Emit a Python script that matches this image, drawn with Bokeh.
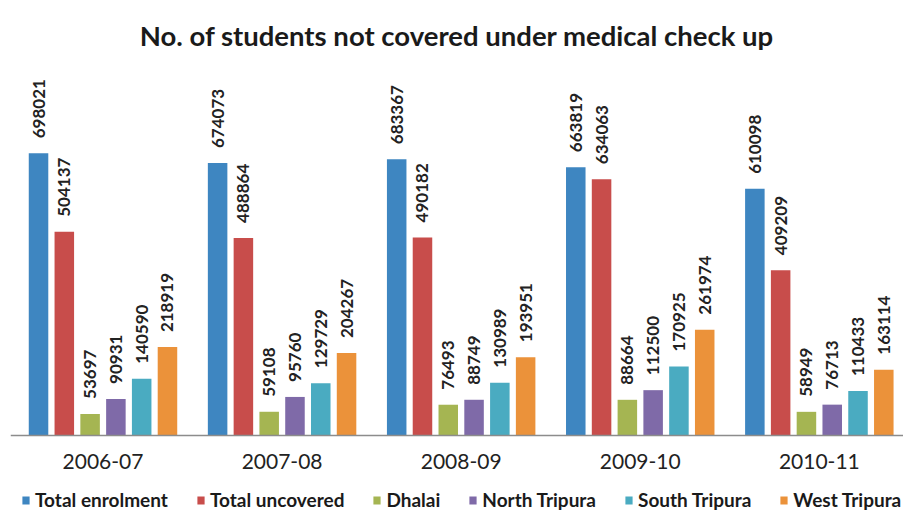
import math
from bokeh.plotting import figure
from bokeh.models import ColumnDataSource, Legend, LegendItem, FixedTicker, Range1d
from bokeh.core.properties import value
from bokeh.embed import file_html
from bokeh.resources import INLINE

years = ["2006-07", "2007-08", "2008-09", "2009-10", "2010-11"]
series_names = ["Total enrolment", "Total uncovered", "Dhalai", "North Tripura", "South Tripura", "West Tripura"]
total_enrolment = [698021, 674073, 683367, 663819, 610098]
total_uncovered = [504137, 488864, 490182, 634063, 409209]
dhalai = [53697, 59108, 76493, 88664, 58949]
north_tripura = [90931, 95760, 88749, 112500, 76713]
south_tripura = [140590, 129729, 130989, 170925, 110433]
west_tripura = [218919, 204267, 193951, 261974, 163114]
series_values = [total_enrolment, total_uncovered, dhalai, north_tripura, south_tripura, west_tripura]
colors = ["#3E86C1", "#C84D4B", "#A5B552", "#7F6AA8", "#4AABC1", "#EB923A"]

FONT = "Lato"

p = figure(width=903, height=511, output_backend="svg", toolbar_location=None,
           x_range=Range1d(-0.5165, 4.470), y_range=Range1d(-187450, 910140),
           min_border_left=10, min_border_right=0, min_border_top=66, min_border_bottom=0)

p.title.text = "No. of students not covered under medical check up"
p.title.text_font = FONT
p.title.text_font_size = "27.5px"
p.title.text_font_style = "bold"
p.title.text_color = "#1a1a1a"
p.title.align = "center"
p.title.standoff = 32

step = 0.144
bw = 0.109
items = []
for i, (name, vals, col) in enumerate(zip(series_names, series_values, colors)):
    xs = [k + (i - 2.5) * step for k in range(len(years))]
    src = ColumnDataSource(dict(x=xs, top=vals, lab=[str(v) for v in vals]))
    r = p.vbar(x="x", top="top", width=bw, bottom=0, source=src, fill_color=col, line_color=None)
    p.text(x="x", y="top", text="lab", source=src, angle=math.pi / 2, y_offset=-15,
           text_align="left", text_baseline="middle", text_font=value(FONT),
           text_font_size="17px", text_font_style="bold", text_color="#222222")
    items.append(LegendItem(label=name, renderers=[r]))

p.xaxis.fixed_location = 0
p.xaxis.ticker = FixedTicker(ticks=list(range(len(years))))
p.xaxis.major_label_overrides = {i: y for i, y in enumerate(years)}
p.xaxis.major_label_text_font = FONT
p.xaxis.major_label_text_font_size = "21px"
p.xaxis.major_label_text_color = "#222222"
p.xaxis.major_label_standoff = 12
p.xaxis.major_tick_line_color = None
p.xaxis.minor_tick_line_color = None
p.xaxis.axis_line_color = "#8c8c8c"
p.xaxis.axis_line_width = 1.5
p.yaxis.visible = False
p.xgrid.visible = False
p.ygrid.visible = False
p.outline_line_color = None

legend = Legend(items=items, orientation="horizontal", location=(11, 0),
                glyph_width=9, glyph_height=10, label_standoff=5, spacing=28,
                padding=0, margin=0, border_line_color=None, background_fill_alpha=0,
                label_text_font=FONT, label_text_font_size="19px",
                label_text_font_style="bold", label_text_color="#1a1a1a")
p.add_layout(legend)

open("out.html", "w").write(file_html(p, INLINE))
